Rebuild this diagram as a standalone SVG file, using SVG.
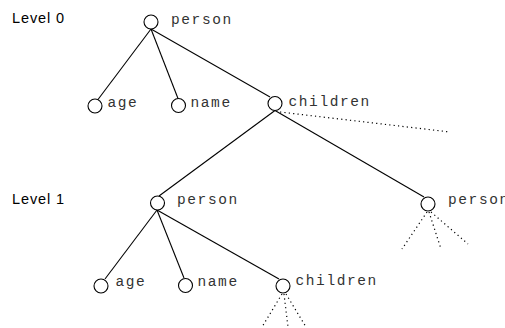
<svg xmlns="http://www.w3.org/2000/svg" width="505" height="328" viewBox="0 0 505 328">
<style>
.bg{fill:#fff}
.n{fill:#fff;stroke:#000;stroke-width:1.1}
.e{stroke:#000;stroke-width:1.1;fill:none}
.d{stroke:#000;stroke-width:1.2;fill:none;stroke-dasharray:1.2 3.2}
.t{font-family:"Liberation Mono","Courier New",monospace;font-size:14.5px;letter-spacing:1.6px;fill:#333}
.lv{font-family:"Liberation Sans",Arial,sans-serif;font-size:14.5px;letter-spacing:0.9px;fill:#000}
</style>
<rect class="bg" x="0" y="0" width="505" height="328"/>
<g id="connectors">
<line class="e" x1="151" y1="29" x2="98" y2="99.5"/>
<line class="e" x1="151" y1="29" x2="178" y2="98.5"/>
<line class="e" x1="151" y1="29" x2="270" y2="97"/>
<line class="e" x1="275" y1="110.5" x2="159" y2="196"/>
<line class="e" x1="275" y1="110.5" x2="424" y2="197"/>
<line class="d" x1="280" y1="112" x2="450" y2="132"/>
<line class="e" x1="157" y1="210" x2="105" y2="279"/>
<line class="e" x1="157" y1="210" x2="184" y2="278"/>
<line class="e" x1="157" y1="210" x2="279" y2="279"/>
<line class="d" x1="282" y1="294" x2="262" y2="327"/>
<line class="d" x1="284" y1="294" x2="288" y2="327"/>
<line class="d" x1="286" y1="294" x2="306" y2="327"/>
<line class="d" x1="427" y1="212" x2="402" y2="249"/>
<line class="d" x1="429" y1="212" x2="441" y2="249"/>
<line class="d" x1="431" y1="212" x2="468" y2="244"/>
</g>
<g id="level0"><text class="lv" x="12" y="22.5">Level 0</text></g>
<g id="level1"><text class="lv" x="12" y="203.5">Level 1</text></g>
<g id="person0"><circle class="n" cx="151" cy="22" r="7"/><text class="t" x="171" y="24">person</text></g>
<g id="age0"><circle class="n" cx="95" cy="106" r="7"/><text class="t" x="107.5" y="107">age</text></g>
<g id="name0"><circle class="n" cx="178.5" cy="105.5" r="7"/><text class="t" x="190.5" y="107">name</text></g>
<g id="children0"><circle class="n" cx="275" cy="103.5" r="7"/><text class="t" x="288.5" y="105.5">children</text></g>
<g id="person1"><circle class="n" cx="157.5" cy="203" r="7"/><text class="t" x="177" y="203.5">person</text></g>
<g id="person2"><circle class="n" cx="428" cy="204" r="7"/><text class="t" x="448" y="204">person</text></g>
<g id="age1"><circle class="n" cx="101" cy="286" r="7"/><text class="t" x="115.5" y="285.5">age</text></g>
<g id="name1"><circle class="n" cx="185.5" cy="285.5" r="7"/><text class="t" x="197.5" y="285.5">name</text></g>
<g id="children1"><circle class="n" cx="283" cy="286" r="7"/><text class="t" x="295.5" y="284.5">children</text></g>
</svg>
